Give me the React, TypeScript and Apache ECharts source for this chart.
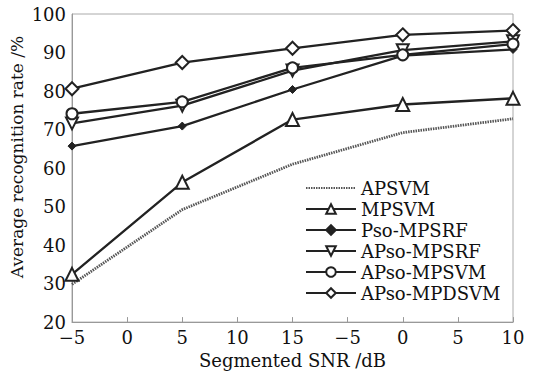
import React, { useEffect, useRef } from "react";
import * as echarts from "echarts";

const xTickLabels = ["−5", "0", "5", "10", "15", "−5", "0", "5", "10"];
const pointTicks = [0, 2, 4, 6, 8];

const apsvm = [29.8, 49.2, 61.0, 69.2, 72.8];
const mpsvm = [32.4, 56.3, 72.6, 76.5, 78.1];
const psoMpsrf = [65.7, 70.9, 80.4, 89.2, 90.8];
const apsoMpsrf = [71.6, 76.2, 85.3, 90.6, 92.9];
const apsoMpsvm = [74.1, 77.2, 86.0, 89.4, 92.2];
const apsoMpdsvm = [80.6, 87.4, 91.1, 94.6, 95.7];

const seriesNames = ["APSVM", "MPSVM", "Pso-MPSRF", "APso-MPSRF", "APso-MPSVM", "APso-MPDSVM"];

const FONT = "DejaVu Serif";
const INK = "#222";
const TEXT = "#111";

function pairs(vals: number[]) {
  return vals.map((v, i) => [pointTicks[i], v]);
}

export default function App() {
  const ref = useRef<HTMLDivElement>(null);
  useEffect(() => {
    const chart = echarts.init(ref.current!, null, { renderer: "svg" });
    const hollow = { color: "#fff", borderColor: INK, borderWidth: 2 };
    const line = { color: INK, width: 2.3 };
    chart.setOption({
      animation: false,
      backgroundColor: "#fff",
      grid: { left: 72, right: 30, top: 14, bottom: 50, show: true, borderColor: "#aaa", borderWidth: 1 },
      legend: {
        left: 300,
        top: 174,
        orient: "vertical",
        itemWidth: 50,
        itemHeight: 12,
        itemGap: 3,
        textStyle: { fontFamily: FONT, fontSize: 18, color: TEXT },
        data: seriesNames,
      },
      xAxis: {
        type: "value",
        min: 0,
        max: 8,
        interval: 1,
        axisLine: { lineStyle: { color: "#999", width: 1 } },
        axisTick: { inside: true, length: 5, lineStyle: { color: "#999" } },
        splitLine: { show: false },
        axisLabel: {
          margin: 6,
          fontFamily: FONT,
          fontSize: 18,
          color: TEXT,
          formatter: (v: number) => xTickLabels[Math.round(v)] ?? "",
        },
        name: "Segmented SNR /dB",
        nameLocation: "middle",
        nameGap: 24,
        nameTextStyle: { fontFamily: FONT, fontSize: 18, color: TEXT },
      },
      yAxis: {
        type: "value",
        min: 20,
        max: 100,
        interval: 10,
        axisLine: { show: true, lineStyle: { color: "#999", width: 1 } },
        axisTick: { show: false },
        splitLine: { show: false },
        axisLabel: { margin: 6, fontFamily: FONT, fontSize: 18, color: TEXT },
      },
      graphic: [
        {
          type: "text",
          x: 17,
          y: 157,
          rotation: Math.PI / 2,
          style: {
            text: "Average recognition rate /%",
            fontFamily: FONT,
            fontSize: 17,
            fill: TEXT,
            align: "center",
            verticalAlign: "middle",
          },
        },
      ],
      series: [
        {
          name: seriesNames[0],
          type: "line",
          data: pairs(apsvm),
          symbol: "circle",
          showSymbol: false,
          lineStyle: { color: "#555", width: 2.8, type: [1.5, 1] },
          itemStyle: { color: "#555", opacity: 0 },
          z: 1,
        },
        {
          name: seriesNames[1],
          type: "line",
          data: pairs(mpsvm),
          symbol: "triangle",
          symbolSize: 13,
          lineStyle: line,
          itemStyle: hollow,
        },
        {
          name: seriesNames[2],
          type: "line",
          data: pairs(psoMpsrf),
          symbol: "diamond",
          symbolSize: 8,
          lineStyle: line,
          itemStyle: { color: INK, borderColor: INK, borderWidth: 1 },
        },
        {
          name: seriesNames[3],
          type: "line",
          data: pairs(apsoMpsrf),
          symbol: "triangle",
          symbolRotate: 180,
          symbolSize: 12,
          lineStyle: line,
          itemStyle: hollow,
        },
        {
          name: seriesNames[4],
          type: "line",
          data: pairs(apsoMpsvm),
          symbol: "circle",
          symbolSize: 11,
          lineStyle: line,
          itemStyle: hollow,
        },
        {
          name: seriesNames[5],
          type: "line",
          data: pairs(apsoMpdsvm),
          symbol: "diamond",
          symbolSize: 13,
          lineStyle: line,
          itemStyle: hollow,
        },
      ],
    });
    return () => chart.dispose();
  }, []);
  return (
    <div
      ref={ref}
      style={{ position: "fixed", left: 0, top: 0, width: 543, height: 374, background: "#fff" }}
    />
  );
}
